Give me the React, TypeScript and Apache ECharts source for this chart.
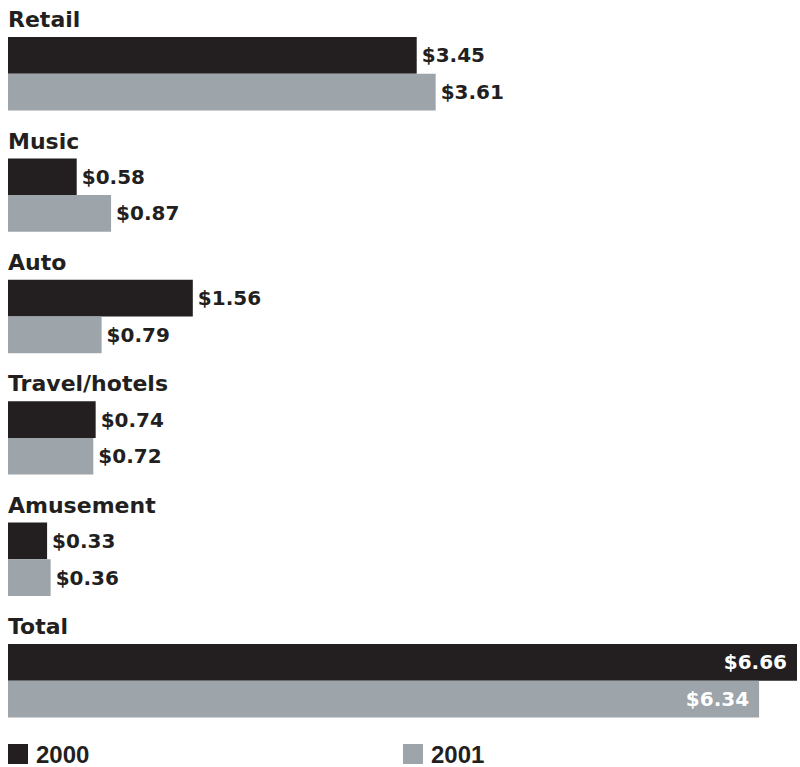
import React, { useEffect, useRef } from "react";
import * as echarts from "echarts";

const categories = ["Retail", "Music", "Auto", "Travel/hotels", "Amusement", "Total"];
const values2000 = [3.45, 0.58, 1.56, 0.74, 0.33, 6.66];
const values2001 = [3.61, 0.87, 0.79, 0.72, 0.36, 6.34];
const seriesNames = ["2000", "2001"];

const BLACK = "#231f20";
const GRAY = "#9da4aa";
const FONT = "DejaVu Sans";

function buildData(vals: number[]) {
  return vals.map((v, i) => {
    const isTotal = categories[i] === "Total";
    return {
      value: v,
      label: isTotal
        ? { position: "insideRight", distance: 10, color: "#ffffff" }
        : { position: "right", distance: 5, color: BLACK },
    };
  });
}

export default function App() {
  const ref = useRef<HTMLDivElement>(null);
  useEffect(() => {
    if (!ref.current) return;
    const chart = echarts.init(ref.current, undefined, { renderer: "svg" });
    const labelBase = {
      show: true,
      fontFamily: FONT,
      fontWeight: "bold",
      fontSize: 20,
      formatter: (p: any) => "$" + Number(p.value).toFixed(2),
    };
    chart.setOption({
      animation: false,
      backgroundColor: "#ffffff",
      grid: { left: 8, right: 3, top: 13, height: 728.4, containLabel: false },
      xAxis: {
        type: "value",
        min: 0,
        max: 6.66,
        show: false,
      },
      yAxis: {
        type: "category",
        data: categories,
        inverse: true,
        axisLine: { show: false },
        axisTick: { show: false },
        splitLine: { show: false },
        axisLabel: {
          inside: true,
          margin: 0,
          color: BLACK,
          fontFamily: FONT,
          fontWeight: "bold",
          fontSize: 22,
          lineHeight: 22,
          verticalAlign: "bottom",
          padding: [0, 0, 43, 0],
        },
      },
      legend: [
        {
          data: [seriesNames[0]],
          left: 8,
          top: 742,
          padding: 0,
          icon: "rect",
          itemWidth: 20,
          itemHeight: 20,
          textStyle: {
            fontFamily: "Liberation Sans",
            fontWeight: "bold",
            fontSize: 24,
            color: BLACK,
            padding: [0, 0, 0, 3],
          },
        },
        {
          data: [seriesNames[1]],
          left: 403,
          top: 742,
          padding: 0,
          icon: "rect",
          itemWidth: 20,
          itemHeight: 20,
          textStyle: {
            fontFamily: "Liberation Sans",
            fontWeight: "bold",
            fontSize: 24,
            color: BLACK,
            padding: [0, 0, 0, 3],
          },
        },
      ],
      series: [
        {
          name: seriesNames[0],
          type: "bar",
          barWidth: 36.7,
          barGap: "0%",
          itemStyle: { color: BLACK },
          label: labelBase,
          data: buildData(values2000),
        },
        {
          name: seriesNames[1],
          type: "bar",
          barWidth: 36.7,
          barGap: "0%",
          itemStyle: { color: GRAY },
          label: labelBase,
          data: buildData(values2001),
        },
      ],
    });
    return () => chart.dispose();
  }, []);
  return (
    <div
      ref={ref}
      style={{ position: "fixed", left: 0, top: 0, width: 800, height: 767 }}
    />
  );
}
